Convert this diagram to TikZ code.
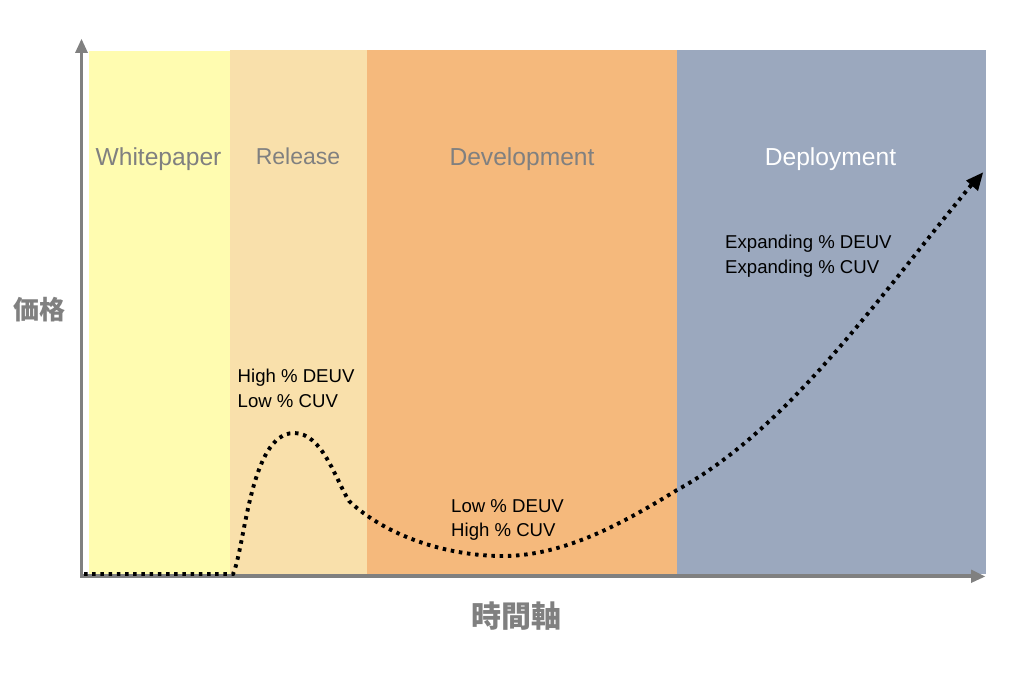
\documentclass[tikz,border=0pt]{standalone}
\usepackage{fontspec}
\setmainfont{Liberation Sans}
\newfontfamily\cjk{Noto Sans CJK JP}
\usetikzlibrary{arrows.meta}
\definecolor{axisgray}{RGB}{128,128,128}
\definecolor{bandA}{RGB}{255,252,176}
\definecolor{bandB}{RGB}{249,224,171}
\definecolor{bandC}{RGB}{245,185,124}
\definecolor{bandD}{RGB}{155,168,190}
\tikzset{
 band/.style={draw=none},
 axisline/.style={draw=axisgray,line width=3.6pt},
 axistip/.style={fill=axisgray,draw=none},
 phase/.style={font=\fontsize{24.6}{28}\selectfont,text=axisgray,inner sep=0pt,anchor=base},
 note/.style={font=\fontsize{18.6}{24.7}\selectfont,text=black,align=left,inner sep=0pt,anchor=west},
 axislabel/.style={font=\cjk\fontsize{26}{30}\selectfont,text=axisgray,inner sep=0pt},
 trend/.style={draw=black,line width=3.9pt,dash pattern=on 3.5pt off 4.7pt},
 trendtip/.style={fill=black,draw=none}
}
\begin{document}
\begin{tikzpicture}[x=1pt,y=-1pt]
\useasboundingbox (0,0) rectangle (1024,679);
\fill[white] (0,0) rectangle (1024,679);
\fill[band,bandA] (89,51) rectangle (230,574);
\fill[band,bandB] (230,50) rectangle (367,574);
\fill[band,bandC] (367,50) rectangle (677,574);
\fill[band,bandD] (677,50) rectangle (986,574);
\coordinate (o) at (81.5,576);
\coordinate (ytop) at (81.5,50);
\coordinate (xend) at (972,576);
\draw[axisline,line cap=rect] (o) -- (ytop);
\draw[axisline,line cap=rect] (o) -- (xend);
\fill[axistip] (81.5,39) -- (75,53) -- (88,53) -- cycle;
\fill[axistip] (985,576.5) -- (971,569.5) -- (971,583) -- cycle;
\node[phase] (w) at (158.5,165) {Whitepaper};
\node[phase,font=\fontsize{23}{28}\selectfont] (r) at (298,164.6) {Release};
\node[phase] (dv) at (522,165) {Development};
\node[phase,text=white] (dp) at (830.5,165) {Deployment};
\node[note] (n1) at (237.5,388) {High \% DEUV\\Low \% CUV};
\node[note] (n2) at (451,520) {Low \% DEUV\\High \% CUV};
\node[note] (n3) at (725,256) {Expanding \% DEUV\\Expanding \% CUV};
\node[axislabel] (yl) at (39,310) {\textbf{価格}};
\node[axislabel,font=\cjk\fontsize{30}{34}\selectfont] (xl) at (516.5,616.5) {\textbf{時間軸}};
\coordinate (s0) at (84,574);
\coordinate (s1) at (233,574);
\coordinate (pk) at (294,433);
\coordinate (kn) at (349,501);
\coordinate (mn) at (503,556);
\coordinate (md) at (677,490);
\coordinate (tp) at (973,183);
\draw[trend] (s0) -- (s1)
  .. controls (245,548) and (250,433) .. (pk)
  .. controls (322,433) and (335,478) .. (kn)
  .. controls (385,535) and (445,556) .. (mn)
  .. controls (565,556) and (625,522) .. (md)
  .. controls (790,428) and (880,295) .. (tp);
\fill[trendtip] (983,172.5) -- (966,180.5) -- (978,191) -- cycle;
\end{tikzpicture}
\end{document}
